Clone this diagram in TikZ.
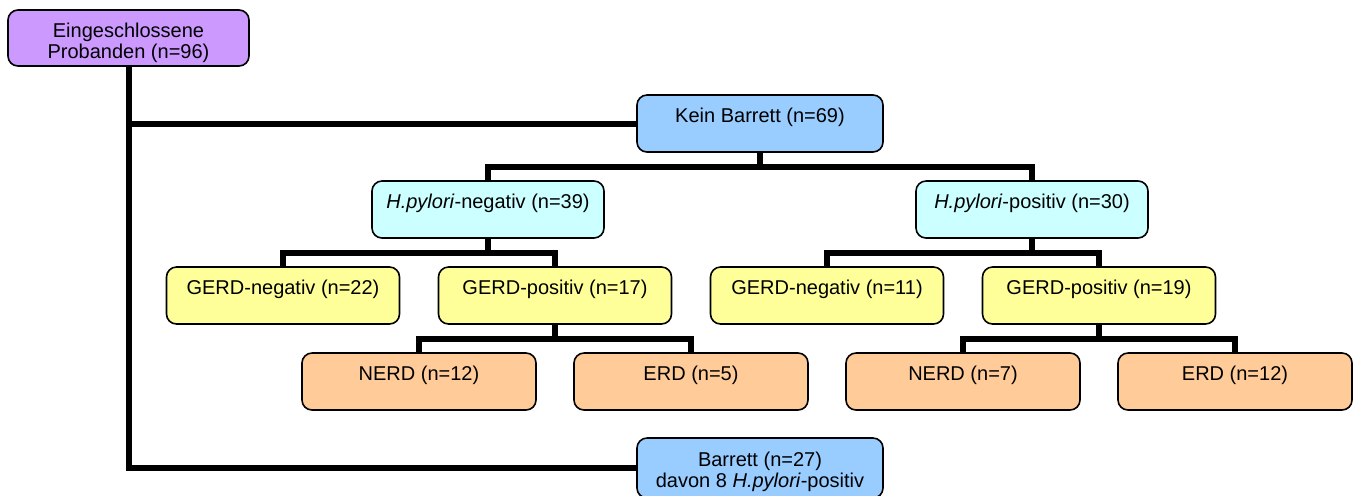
\documentclass[tikz,border=0pt]{standalone}
\usepackage{fontspec}
\setmainfont{Liberation Sans}
\usetikzlibrary{trees}

\definecolor{rootcol}{HTML}{CC99FF}
\definecolor{barrcol}{HTML}{99CCFF}
\definecolor{hpcol}{HTML}{CCFFFF}
\definecolor{gerdcol}{HTML}{FFFF99}
\definecolor{erdcol}{HTML}{FFCC99}

\tikzset{
  box/.style={rectangle, draw, line width=0.8pt, rounded corners=5pt,
    inner sep=0pt, align=center, font=\fontsize{10}{10.5}\selectfont,
    text height=13.5pt, text depth=15pt},
  rootbox/.style={box, fill=rootcol, minimum width=120.5pt, text height=24pt, text depth=4pt},
  barrbox/.style={box, fill=barrcol, minimum width=123pt},
  hpbox/.style={box, fill=hpcol, minimum width=116pt},
  gerdbox/.style={box, fill=gerdcol, minimum width=116.5pt},
  erdbox/.style={box, fill=erdcol, minimum width=117pt},
  line/.style={draw, line width=3pt}
}

\begin{document}
\begin{tikzpicture}[x=0.5pt, y=-0.5pt,
    level distance=43pt,
    level 1/.style={sibling distance=272pt},
    level 2/.style={grow via three points={one child at (-34pt,-43pt)
      and two children at (-102.5pt,-43pt) and (33.5pt,-43pt)}},
    level 3/.style={grow via three points={one child at (0pt,-43pt)
      and two children at (-68pt,-43pt) and (68pt,-43pt)}},
    edge from parent/.style={line},
    edge from parent path={(\tikzparentnode.south) -- ++(0,-7pt) -| (\tikzchildnode.north)}
    ]
    \clip (0,0) rectangle (1353,495);
    \node[rootbox] (root) at (128.5,38) {Eingeschlossene\\Probanden (n=96)};
    \node[barrbox, text height=24.5pt, text depth=5.5pt] (barrett) at (760,468)
      {Barrett (n=27)\\davon 8 \textit{H.pylori}-positiv};
    \node[barrbox] (kein) at (760,123.5) {Kein Barrett (n=69)}
      child {node[hpbox] (hpneg) {\textit{H.pylori}-negativ (n=39)}
        child {node[gerdbox] (gneg1) {GERD-negativ (n=22)}}
        child {node[gerdbox] (gpos1) {GERD-positiv (n=17)}
          child {node[erdbox] (nerd1) {NERD (n=12)}}
          child {node[erdbox] (erd1) {ERD (n=5)}}
        }
      }
      child {node[hpbox] (hppos) {\textit{H.pylori}-positiv (n=30)}
        child {node[gerdbox] (gneg2) {GERD-negativ (n=11)}}
        child {node[gerdbox] (gpos2) {GERD-positiv (n=19)}
          child {node[erdbox] (nerd2) {NERD (n=7)}}
          child {node[erdbox] (erd2) {ERD (n=12)}}
        }
      };
    \draw[line] (root.south) |- (barrett.west);
    \draw[line] (root.south |- kein.west) -- (kein.west);
  \end{tikzpicture}
\end{document}
